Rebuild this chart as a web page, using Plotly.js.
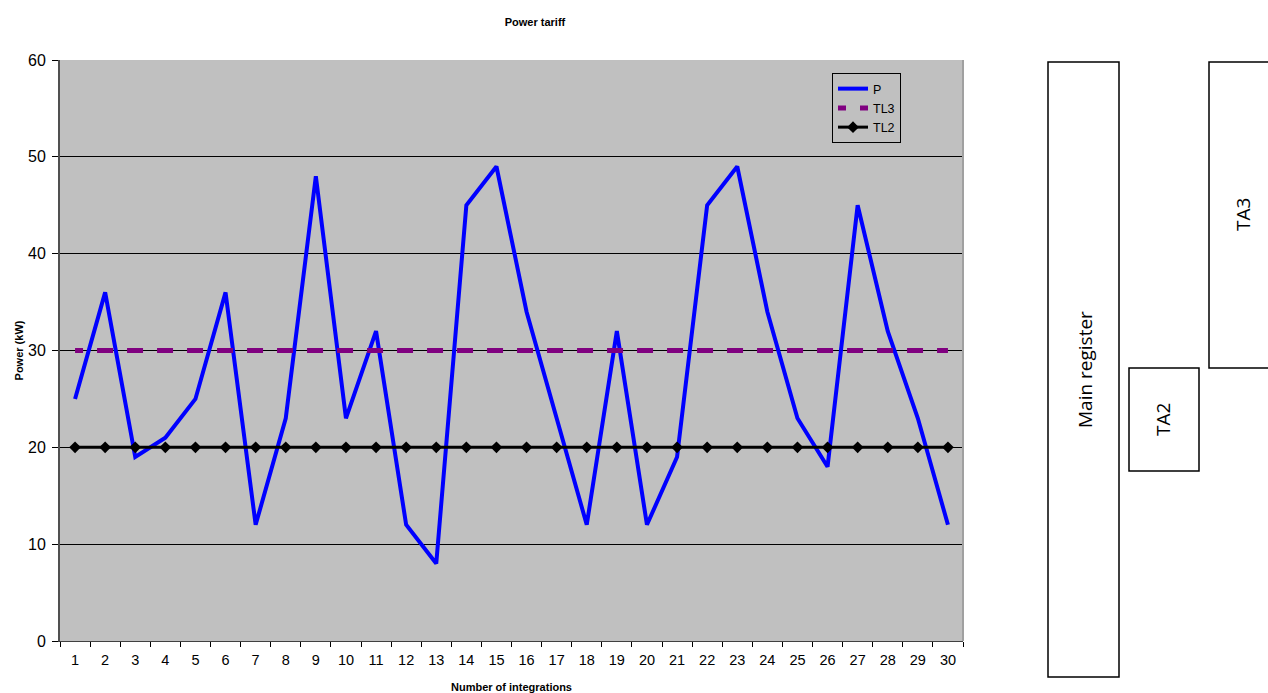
<!DOCTYPE html>
<html>
<head>
<meta charset="utf-8">
<script src="https://cdn.plot.ly/plotly-3.0.1.min.js"></script>
<style>html,body{margin:0;padding:0;background:#fff;}#chart{width:1268px;height:693px;}</style>
</head>
<body>
<div id="chart"></div>
<script>
const categories = ["1","2","3","4","5","6","7","8","9","10","11","12","13","14","15","16","17","18","19","20","21","22","23","24","25","26","27","28","29","30"];
const seriesP = [25,36,19,21,25,36,12,23,48,23,32,12,8,45,49,34,23,12,32,12,19,45,49,34,23,18,45,32,23,12];
const seriesTL3 = [30,30,30,30,30,30,30,30,30,30,30,30,30,30,30,30,30,30,30,30,30,30,30,30,30,30,30,30,30,30];
const seriesTL2 = [20,20,20,20,20,20,20,20,20,20,20,20,20,20,20,20,20,20,20,20,20,20,20,20,20,20,20,20,20,20];
const boxLabels = ["Main register","TA2","TA3"];

const L = 60, T = 60, W = 903, H = 581;
const px = x => (x - L) / W;
const py = y => (T + H - y) / H;

const traces = [
  {x: categories, y: seriesP, name: "P", type: "scatter", mode: "lines",
   line: {color: "#0000FF", width: 4}},
  {x: categories, y: seriesTL3, name: "TL3", type: "scatter", mode: "lines",
   line: {color: "#800080", width: 5, dash: "8px,14px,8px,0px"}},
  {x: categories, y: seriesTL2, name: "TL2", type: "scatter", mode: "lines+markers",
   line: {color: "#000000", width: 3},
   marker: {symbol: "diamond", size: 9, color: "#000000"}}
];

const boxes = [
  {x0: 1048, x1: 1119, y0: 62, y1: 677, cx: 1085, cy: 370},
  {x0: 1129, x1: 1199, y0: 368, y1: 471, cx: 1163, cy: 420},
  {x0: 1209, x1: 1300, y0: 62, y1: 368, cx: 1243, cy: 215}
];

const shapes = boxes.map(b => ({
  type: "rect", xref: "paper", yref: "paper",
  x0: px(b.x0), x1: px(b.x1), y0: py(b.y1), y1: py(b.y0),
  line: {color: "#000000", width: 1.5}, fillcolor: "rgba(0,0,0,0)"
}));

const annotations = boxes.map((b, i) => ({
  xref: "paper", yref: "paper", x: px(b.cx), y: py(b.cy),
  text: boxLabels[i], showarrow: false, textangle: -90,
  font: {family: "Open Sans, Liberation Sans, sans-serif", size: 19, color: "#000"},
  xanchor: "center", yanchor: "middle"
}));

const layout = {
  width: 1268, height: 693,
  margin: {l: L, r: 1268 - L - W, t: T, b: 693 - T - H, pad: 0},
  paper_bgcolor: "#FFFFFF",
  plot_bgcolor: "#C0C0C0",
  font: {family: "Liberation Sans, Arial, sans-serif", color: "#000", size: 13},
  title: {text: "<b>Power tariff</b>", x: 535/1268, xref: "container", xanchor: "center",
          y: 1 - 22/693, yref: "container", yanchor: "middle",
          font: {size: 11, family: "Liberation Sans, Arial, sans-serif", color: "#000"}},
  xaxis: {type: "category", range: [-0.5, 29.5], autorange: false,
          tickson: "boundaries", ticks: "outside", ticklen: 5, ticklabelstandoff: 6,
          tickcolor: "#000", showgrid: false, showline: true, linecolor: "#404040",
          linewidth: 1, mirror: false, tickfont: {size: 14.5}, automargin: false,
          title: {text: "<b>Number of integrations</b>", font: {size: 11}, standoff: 16}},
  yaxis: {range: [0, 60], autorange: false, dtick: 10, ticks: "outside", ticklen: 6, tickcolor: "#000",
          ticklabelstandoff: 3,
          showgrid: true, gridcolor: "#000000", gridwidth: 1, zeroline: false,
          showline: true, linecolor: "#505050", linewidth: 2, tickfont: {size: 16}, automargin: false,
          title: {text: "<b>Power (kW)</b>", font: {size: 11}, standoff: 2}},
  showlegend: true,
  legend: {x: px(832), y: py(73), xanchor: "left", yanchor: "top",
           bgcolor: "rgba(0,0,0,0)", bordercolor: "#000", borderwidth: 1,
           font: {size: 12.5}, tracegroupgap: 0, itemwidth: 30},
  shapes: shapes.concat([{type: "line", xref: "paper", yref: "paper", x0: 1, x1: 1, y0: 0, y1: 1,
           line: {color: "#A0A0A0", width: 2}}]),
  annotations: annotations
};

Plotly.newPlot("chart", traces, layout, {staticPlot: true, displayModeBar: false});
</script>
</body>
</html>
